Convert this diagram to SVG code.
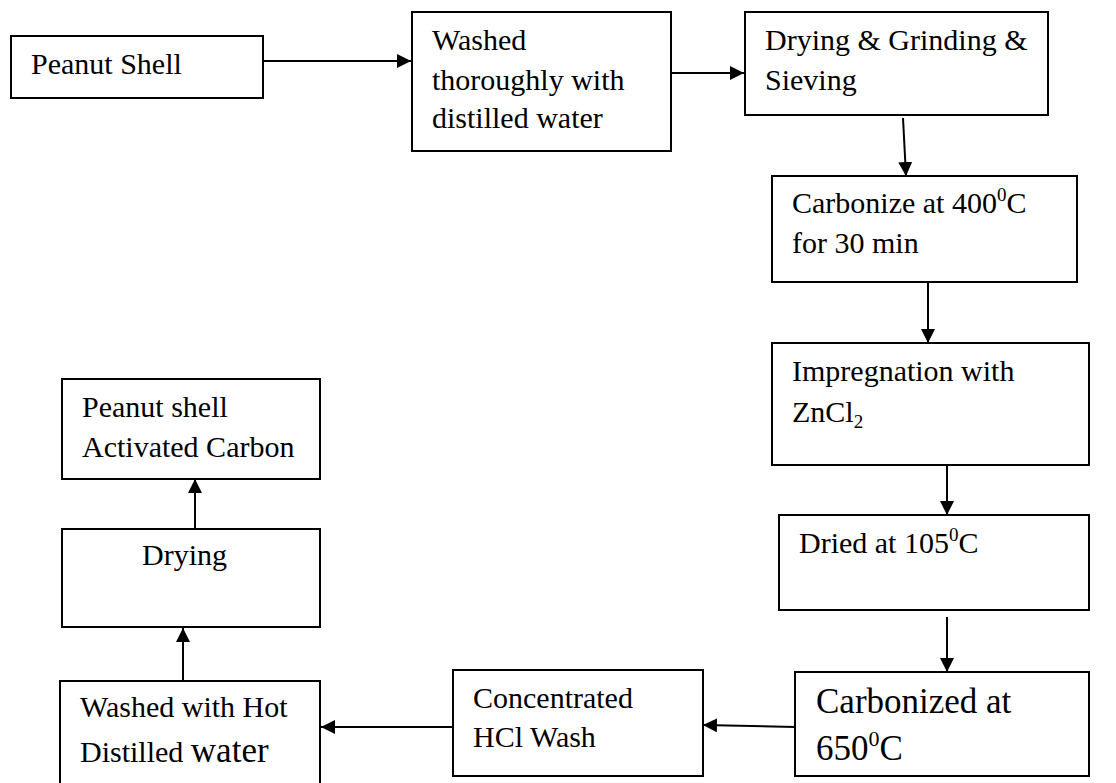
<svg xmlns="http://www.w3.org/2000/svg" width="1116" height="783" viewBox="0 0 1116 783">
<defs>
<style>
.box{fill:#fff;stroke:#000;stroke-width:2}
.t{font-family:"Liberation Serif","Times New Roman",serif;font-size:30px;fill:#000}
.big{font-size:35px}
.sup{font-size:19px}
.c{fill:none;stroke:#000;stroke-width:2}
</style>
<marker id="ah" viewBox="0 0 14 14" refX="14" refY="7" markerWidth="14" markerHeight="14" markerUnits="userSpaceOnUse" orient="auto">
<path d="M0,0 L14,7 L0,14 Z" fill="#000"/>
</marker>
</defs>
<rect width="1116" height="783" fill="#fff"/>
<g id="connectors">
<line class="c" x1="263" y1="61" x2="411" y2="61" marker-end="url(#ah)"/>
<line class="c" x1="671" y1="73" x2="744" y2="73" marker-end="url(#ah)"/>
<line class="c" x1="903" y1="118" x2="906" y2="176" marker-end="url(#ah)"/>
<line class="c" x1="928" y1="282" x2="928" y2="343" marker-end="url(#ah)"/>
<line class="c" x1="947" y1="465" x2="947" y2="515" marker-end="url(#ah)"/>
<line class="c" x1="947" y1="617" x2="947" y2="672" marker-end="url(#ah)"/>
<line class="c" x1="795" y1="727" x2="703" y2="725" marker-end="url(#ah)"/>
<line class="c" x1="453" y1="727" x2="321" y2="727" marker-end="url(#ah)"/>
<line class="c" x1="183" y1="681" x2="183" y2="628" marker-end="url(#ah)"/>
<line class="c" x1="195" y1="529" x2="195" y2="479" marker-end="url(#ah)"/>
</g>
<g id="n1"><rect class="box" x="11" y="36" width="252" height="62"/><text class="t" x="31" y="74">Peanut Shell</text></g>
<g id="n2"><rect class="box" x="412" y="12" width="259" height="139"/><text class="t" x="432" y="50">Washed</text><text class="t" x="432" y="90">thoroughly with</text><text class="t" x="432" y="128">distilled water</text></g>
<g id="n3"><rect class="box" x="745" y="12" width="303" height="103"/><text class="t" x="765" y="50">Drying &amp; Grinding &amp;</text><text class="t" x="765" y="90">Sieving</text></g>
<g id="n4"><rect class="box" x="772" y="176" width="305" height="106"/><text class="t" x="792" y="213">Carbonize at 400<tspan class="sup" dy="-12">0</tspan><tspan dy="12">C</tspan></text><text class="t" x="792" y="253">for 30 min</text></g>
<g id="n5"><rect class="box" x="772" y="343" width="317" height="122"/><text class="t" x="792" y="381">Impregnation with</text><text class="t" x="792" y="422">ZnCl<tspan class="sup" dy="6">2</tspan></text></g>
<g id="n6"><rect class="box" x="779" y="515" width="310" height="95"/><text class="t" x="799" y="553">Dried at 105<tspan class="sup" dy="-12">0</tspan><tspan dy="12">C</tspan></text></g>
<g id="n7"><rect class="box" x="795" y="672" width="294" height="104"/><text class="t big" x="816" y="713">Carbonized at</text><text class="t big" x="816" y="760">650<tspan class="sup" style="font-size:22px" dy="-14">0</tspan><tspan dy="14">C</tspan></text></g>
<g id="n8"><rect class="box" x="453" y="670" width="250" height="106"/><text class="t" x="473" y="708">Concentrated</text><text class="t" x="473" y="747">HCl Wash</text></g>
<g id="n9"><rect class="box" x="60" y="681" width="260" height="110"/><text class="t" x="80" y="717">Washed with Hot</text><text class="t" x="80" y="762">Distilled <tspan class="big">water</tspan></text></g>
<g id="n10"><rect class="box" x="62" y="529" width="258" height="98"/><text class="t" x="142" y="565">Drying</text></g>
<g id="n11"><rect class="box" x="62" y="379" width="258" height="100"/><text class="t" x="82" y="417">Peanut shell</text><text class="t" x="82" y="457">Activated Carbon</text></g>
</svg>
